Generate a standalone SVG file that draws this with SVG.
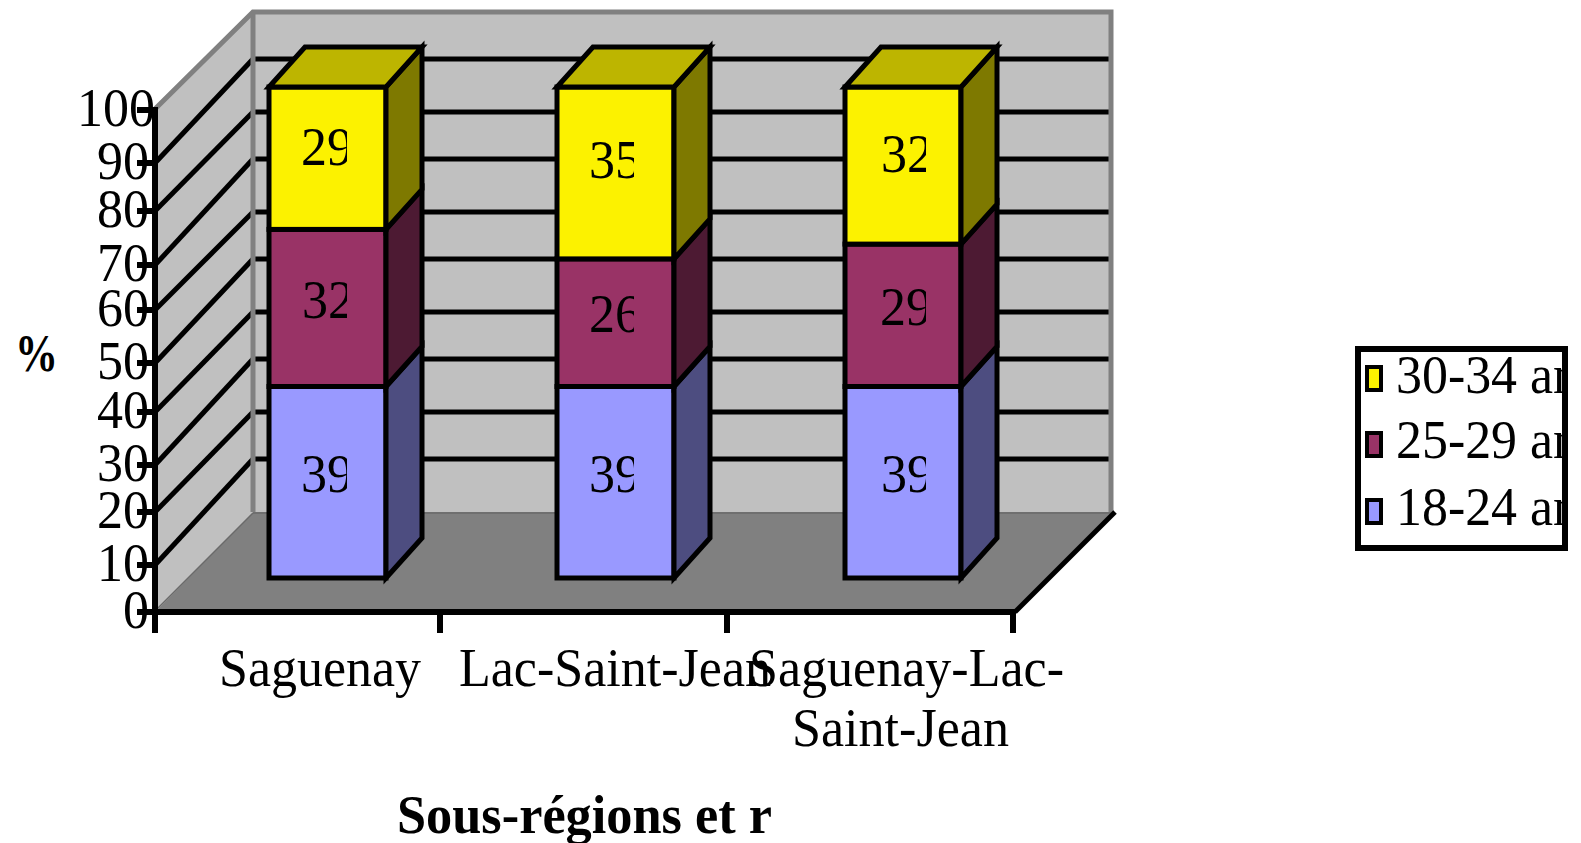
<svg xmlns="http://www.w3.org/2000/svg" width="1581" height="843" viewBox="0 0 1581 843">
<style>
text{font-family:"Liberation Serif","Times New Roman",serif;fill:#000}
.lbl{font-size:54px}
.tick{font-size:54px;text-anchor:end}
.bold{font-weight:bold}
.grid{stroke:#000;stroke-width:5;fill:none}
.edge{stroke:#808080;stroke-width:5;fill:none}
.ax{stroke:#000;stroke-width:6;fill:none}
.bar{stroke:#000;stroke-width:5;stroke-linejoin:miter}
.yf{fill:#FCF200}.yt{fill:#BDB500}.ys{fill:#7E7900}
.pf{fill:#993366}.ps{fill:#4D1A33}
.bf{fill:#9999FF}.bs{fill:#4D4D80}
</style>
<defs>
<clipPath id="c1"><rect x="290" y="100" width="57" height="420"/></clipPath>
<clipPath id="c2"><rect x="578" y="100" width="56" height="420"/></clipPath>
<clipPath id="c3"><rect x="870" y="100" width="56" height="420"/></clipPath>
<clipPath id="cl"><rect x="1361" y="352" width="201" height="193"/></clipPath>
</defs>
<rect width="1581" height="843" fill="#fff"/>
<g id="walls">
<polygon points="155,110 253,12 253,512 155,612" fill="#C0C0C0"/>
<rect x="253" y="12" width="858" height="500" fill="#C0C0C0"/>
<polygon points="155,612 253,512 1113,512 1015,612" fill="#808080"/>
<line x1="157" y1="609" x2="253" y2="513" stroke="#6a6a6a" stroke-width="1.5"/>
<line x1="253" y1="513" x2="1111" y2="513" stroke="#6a6a6a" stroke-width="1.5"/>
<g class="grid">
<line x1="155" y1="565" x2="253" y2="459"/><line x1="253" y1="459" x2="1110" y2="459"/>
<line x1="155" y1="512" x2="253" y2="412"/><line x1="253" y1="412" x2="1110" y2="412"/>
<line x1="155" y1="465" x2="253" y2="359"/><line x1="253" y1="359" x2="1110" y2="359"/>
<line x1="155" y1="412" x2="253" y2="312"/><line x1="253" y1="312" x2="1110" y2="312"/>
<line x1="155" y1="363" x2="253" y2="259"/><line x1="253" y1="259" x2="1110" y2="259"/>
<line x1="155" y1="310" x2="253" y2="212"/><line x1="253" y1="212" x2="1110" y2="212"/>
<line x1="155" y1="265" x2="253" y2="159"/><line x1="253" y1="159" x2="1110" y2="159"/>
<line x1="155" y1="211" x2="253" y2="112"/><line x1="253" y1="112" x2="1110" y2="112"/>
<line x1="155" y1="163" x2="253" y2="59"/><line x1="253" y1="59" x2="1110" y2="59"/>
</g>
<g class="edge">
<polyline points="155,109 253,12 1111,12 1111,512"/>
<line x1="253" y1="12" x2="253" y2="512"/>
</g>
<line x1="1015" y1="612" x2="1115" y2="512" stroke="#000" stroke-width="5"/>
</g>
<g id="bar-saguenay" class="bar">
<rect class="bf" x="269" y="386.5" width="117" height="191.5"/>
<polygon class="bs" points="386,578 422,538 422,346.5 386,386.5"/>
<rect class="pf" x="269" y="229.4" width="117" height="157.1"/>
<polygon class="ps" points="386,386.5 422,346.5 422,189.4 386,229.4"/>
<rect class="yf" x="269" y="87" width="117" height="142.4"/>
<polygon class="ys" points="386,229.4 422,189.4 422,47 386,87"/>
<polygon class="yt" points="269,87 305,47 422,47 386,87"/>
</g>
<g id="bar-lac" class="bar">
<rect class="bf" x="557" y="386.5" width="117" height="191.5"/>
<polygon class="bs" points="674,578 710,538 710,346.5 674,386.5"/>
<rect class="pf" x="557" y="258.9" width="117" height="127.6"/>
<polygon class="ps" points="674,386.5 710,346.5 710,218.9 674,258.9"/>
<rect class="yf" x="557" y="87" width="117" height="171.9"/>
<polygon class="ys" points="674,258.9 710,218.9 710,47 674,87"/>
<polygon class="yt" points="557,87 593,47 710,47 674,87"/>
</g>
<g id="bar-region" class="bar">
<rect class="bf" x="845" y="386.5" width="116" height="191.5"/>
<polygon class="bs" points="961,578 997,538 997,346.5 961,386.5"/>
<rect class="pf" x="845" y="244.1" width="116" height="142.4"/>
<polygon class="ps" points="961,386.5 997,346.5 997,204.1 961,244.1"/>
<rect class="yf" x="845" y="87" width="116" height="157.1"/>
<polygon class="ys" points="961,244.1 997,204.1 997,47 961,87"/>
<polygon class="yt" points="845,87 881,47 997,47 961,87"/>
</g>
<g id="bar-labels" class="lbl">
<g clip-path="url(#c1)">
<text x="301" y="165" textLength="52" lengthAdjust="spacingAndGlyphs">29</text>
<text x="302" y="318" textLength="52" lengthAdjust="spacingAndGlyphs">32</text>
<text x="301" y="492" textLength="52" lengthAdjust="spacingAndGlyphs">39</text>
</g>
<g clip-path="url(#c2)">
<text x="589" y="178" textLength="52" lengthAdjust="spacingAndGlyphs">35</text>
<text x="589" y="332" textLength="52" lengthAdjust="spacingAndGlyphs">26</text>
<text x="589" y="492" textLength="52" lengthAdjust="spacingAndGlyphs">39</text>
</g>
<g clip-path="url(#c3)">
<text x="881" y="172" textLength="52" lengthAdjust="spacingAndGlyphs">32</text>
<text x="880" y="325" textLength="52" lengthAdjust="spacingAndGlyphs">29</text>
<text x="881" y="492" textLength="52" lengthAdjust="spacingAndGlyphs">39</text>
</g>
</g>
<g id="axes">
<line class="ax" x1="150" y1="612" x2="1016" y2="612"/>
<line class="ax" x1="155" y1="107" x2="155" y2="633"/>
<g class="ax" stroke-width="5">
<line x1="137" y1="612" x2="155" y2="612"/><line x1="137" y1="565" x2="155" y2="565"/>
<line x1="137" y1="512" x2="155" y2="512"/><line x1="137" y1="465" x2="155" y2="465"/>
<line x1="137" y1="412" x2="155" y2="412"/><line x1="137" y1="363" x2="155" y2="363"/>
<line x1="137" y1="310" x2="155" y2="310"/><line x1="137" y1="265" x2="155" y2="265"/>
<line x1="137" y1="211" x2="155" y2="211"/><line x1="137" y1="163" x2="155" y2="163"/>
<line x1="137" y1="110" x2="155" y2="110"/>
<line x1="440" y1="612" x2="440" y2="633"/><line x1="727" y1="612" x2="727" y2="633"/>
<line x1="1013" y1="612" x2="1013" y2="633"/>
</g>
</g>
<g id="tick-labels" class="tick">
<text x="149" y="628" textLength="26" lengthAdjust="spacingAndGlyphs">0</text>
<text x="149" y="581" textLength="52" lengthAdjust="spacingAndGlyphs">10</text>
<text x="149" y="528" textLength="52" lengthAdjust="spacingAndGlyphs">20</text>
<text x="149" y="481" textLength="52" lengthAdjust="spacingAndGlyphs">30</text>
<text x="149" y="428" textLength="52" lengthAdjust="spacingAndGlyphs">40</text>
<text x="149" y="379" textLength="52" lengthAdjust="spacingAndGlyphs">50</text>
<text x="149" y="326" textLength="52" lengthAdjust="spacingAndGlyphs">60</text>
<text x="149" y="281" textLength="52" lengthAdjust="spacingAndGlyphs">70</text>
<text x="149" y="227" textLength="52" lengthAdjust="spacingAndGlyphs">80</text>
<text x="149" y="179" textLength="52" lengthAdjust="spacingAndGlyphs">90</text>
<text x="155" y="126" textLength="78" lengthAdjust="spacingAndGlyphs">100</text>
</g>
<g id="category-labels" class="lbl">
<text x="219" y="686" textLength="202" lengthAdjust="spacingAndGlyphs">Saguenay</text>
<text x="459" y="686" textLength="312" lengthAdjust="spacingAndGlyphs">Lac-Saint-Jean</text>
<text x="749" y="686" textLength="315" lengthAdjust="spacingAndGlyphs">Saguenay-Lac-</text>
<text x="792" y="746" textLength="217" lengthAdjust="spacingAndGlyphs">Saint-Jean</text>
</g>
<text id="y-title" class="bold" x="15" y="371" font-size="52" textLength="43" lengthAdjust="spacingAndGlyphs">%</text>
<text id="x-title" class="bold" x="397" y="833" font-size="55" textLength="375" lengthAdjust="spacingAndGlyphs">Sous-régions et r</text>
<g id="legend">
<rect x="1358" y="349" width="207" height="199" fill="#fff" stroke="#000" stroke-width="6"/>
<rect x="1367" y="367" width="14" height="23" class="yf" stroke="#000" stroke-width="4"/>
<rect x="1367" y="433" width="14" height="23" class="pf" stroke="#000" stroke-width="4"/>
<rect x="1367" y="500" width="14" height="23" class="bf" stroke="#000" stroke-width="4"/>
<g class="lbl" clip-path="url(#cl)">
<text x="1396" y="393" textLength="183" lengthAdjust="spacingAndGlyphs">30-34 an</text>
<text x="1396" y="458" textLength="183" lengthAdjust="spacingAndGlyphs">25-29 an</text>
<text x="1396" y="525" textLength="183" lengthAdjust="spacingAndGlyphs">18-24 an</text>
</g>
</g>
</svg>
